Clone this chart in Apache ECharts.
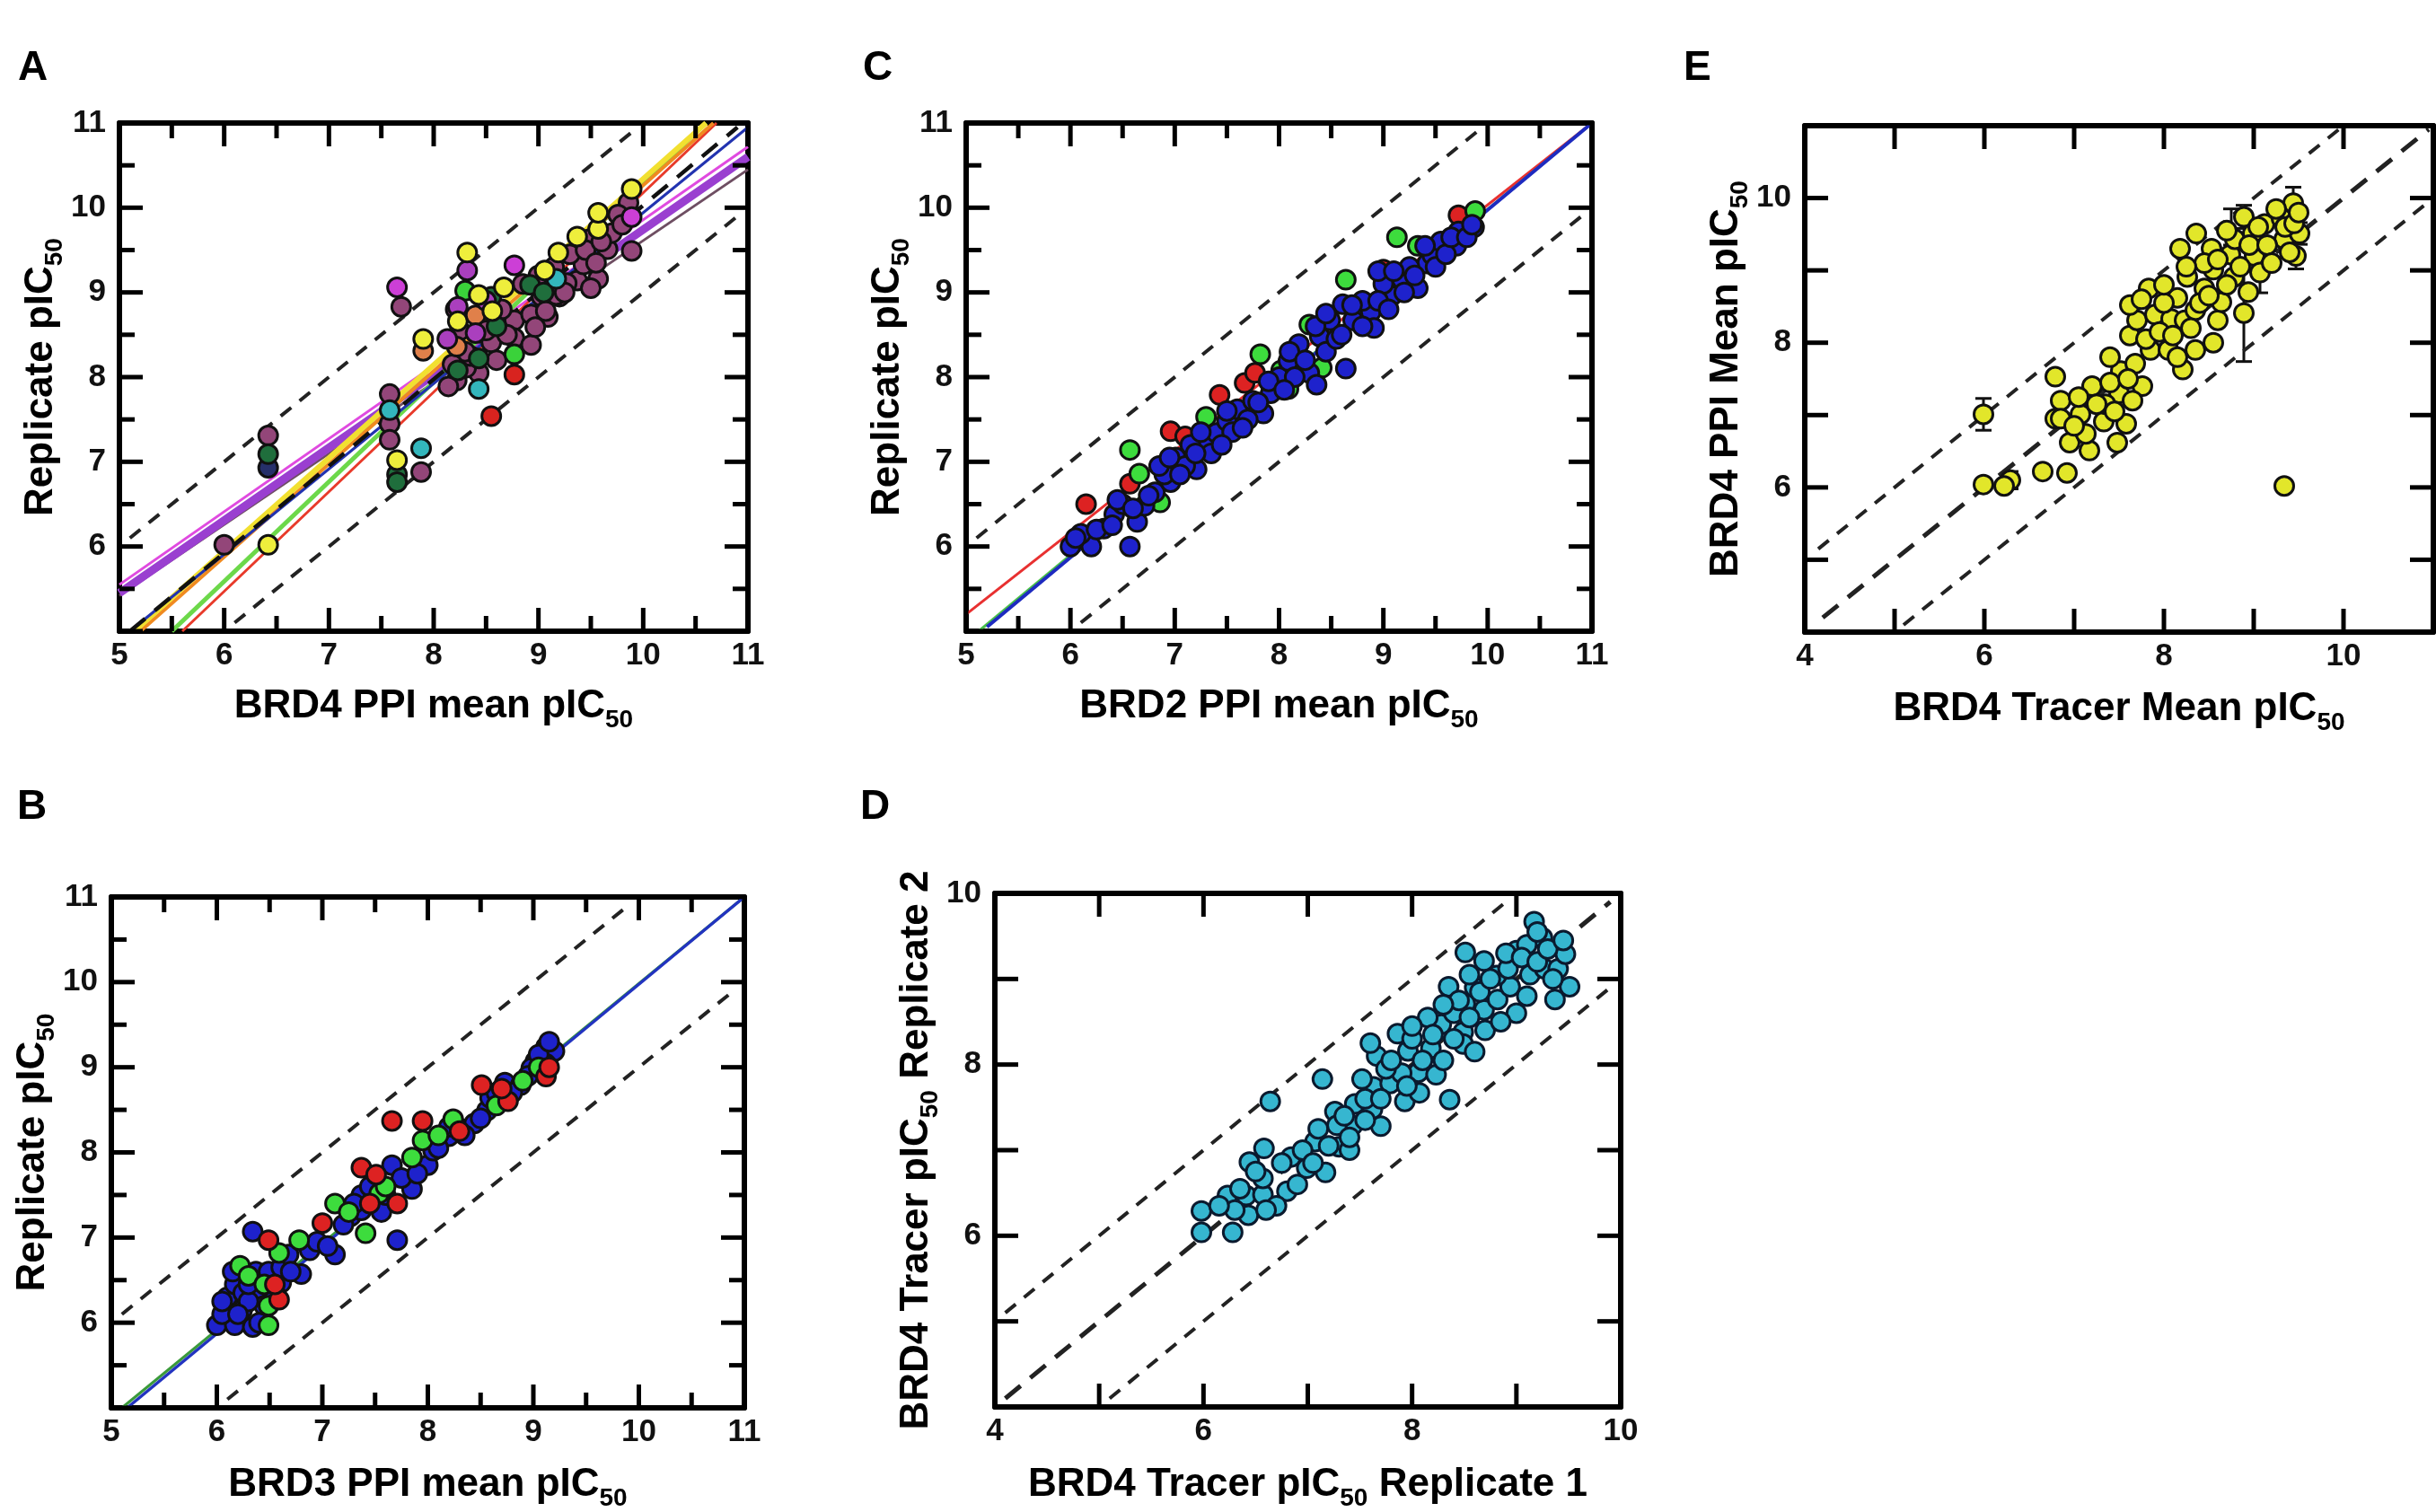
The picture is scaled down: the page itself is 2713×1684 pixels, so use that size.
<!DOCTYPE html>
<html><head><meta charset="utf-8">
<script src="https://cdn.jsdelivr.net/npm/echarts@6/dist/echarts.min.js"></script>
<style>html,body{margin:0;padding:0;background:#fff}#c{width:2713px;height:1684px}</style>
</head><body><div id="c"></div>
<script>
// ---------- Panel A (BRD4 PPI) ----------
const A_mauve = [[6.00,6.02],[6.42,7.31],[7.58,7.80],[7.58,7.45],[7.58,7.26],[7.88,6.88],[7.69,8.83],[8.22,7.96],[8.43,8.05],[8.55,8.41],[8.77,8.67],[8.93,8.74],[9.09,8.71],[9.03,8.95],[9.20,8.95],[9.37,9.14],[9.43,9.33],[9.57,9.16],[9.66,9.51],[9.89,9.49],[8.14,7.89],[8.77,8.46],[8.93,8.38],[8.31,8.11],[8.21,8.80],[9.86,10.06],[9.76,9.92],[9.49,9.63],[9.27,9.11],[9.07,8.78],[8.97,8.59],[9.17,8.97],[8.35,8.25],[8.50,8.55],[8.65,8.80],[8.85,9.10],[9.00,9.20],[9.15,9.30],[9.30,9.45],[9.45,9.50],[9.55,9.35],[9.70,9.70],[9.60,9.60],[9.80,9.80],[8.60,8.20],[8.70,8.50],[9.25,9.00],[9.50,9.05],[8.25,8.55],[8.30,8.30],[8.18,8.15]];
const A_yellow = [[6.42,6.02],[7.65,7.02],[7.90,8.45],[8.32,9.47],[8.43,8.97],[8.67,9.06],[8.56,8.78],[8.23,8.66],[9.06,9.26],[9.19,9.47],[9.37,9.66],[9.57,9.75],[9.57,9.94],[9.89,10.22]];
const A_magenta = [[8.77,9.32],[9.89,9.89],[7.65,9.06]];
const A_purple = [[8.32,9.26],[8.40,8.52],[8.13,8.45],[8.23,8.83],[8.50,8.90]];
const A_green = [[8.30,9.02],[8.77,8.27]];
const A_darkgreen = [[6.42,7.09],[7.65,6.85],[7.65,6.76],[8.23,8.08],[8.43,8.22],[8.92,9.09],[8.55,8.95],[8.60,8.60],[9.05,9.00]];
const A_cyan = [[7.58,7.61],[7.88,7.16],[8.43,7.86],[9.17,9.16]];
const A_red = [[8.55,7.54],[8.77,8.03]];
const A_orange = [[7.90,8.31],[8.22,8.36],[8.40,8.73]];
const A_navy = [[6.42,6.93]];
const A_fitPurple = [[5,5.45],[11,10.60]];
const A_fitMagenta = [[5,5.55],[11,10.72]];
const A_fitGray = [[5,5.42],[11,10.45]];
const A_fitOrange = [[5.20,5],[10.67,11]];
const A_fitYellow = [[5.14,5],[10.60,11]];
const A_fitGreen = [[5.50,5],[10.60,11]];
const A_fitRed = [[5.60,5],[10.70,11]];
const A_fitBlue = [[5.10,5],[11,10.95]];
const A_fitBlack = [[5.10,5],[10.90,10.95]];

// ---------- Panel B (BRD3 PPI) ----------
const B_blue = [[6.0,5.97],[6.17,5.97],[6.34,5.95],[6.10,6.30],[6.24,6.15],[6.17,6.45],[6.39,6.40],[6.37,6.60],[6.49,6.60],[6.61,6.47],[6.34,7.07],[6.61,6.65],[6.80,6.57],[6.68,6.80],[6.88,6.85],[7.12,6.80],[7.27,7.25],[7.37,7.32],[7.46,7.45],[7.56,7.30],[7.66,7.85],[7.85,7.57],[7.71,6.97],[8.0,7.85],[8.05,8.02],[8.20,8.19],[8.29,8.29],[8.44,8.34],[8.56,8.49],[8.59,8.64],[8.73,8.82],[8.88,8.79],[9.02,9.07],[9.12,9.24],[9.20,9.19],[9.12,9.04],[8.98,8.99],[7.37,7.50],[6.05,6.10],[6.25,6.35],[6.45,6.20],[6.05,6.25],[6.15,6.60],[6.30,6.25],[6.30,6.45],[6.20,6.10],[6.40,6.00],[6.55,6.35],[6.70,6.60],[6.95,6.95],[7.05,6.90],[7.20,7.15],[7.30,7.40],[7.45,7.60],[7.60,7.50],[7.75,7.70],[7.90,7.75],[8.10,8.05],[8.35,8.20],[8.50,8.40],[8.65,8.70],[8.80,8.70],[8.95,8.90],[9.05,9.15],[9.15,9.30],[8.20,8.30]];
const B_green = [[6.22,6.67],[6.49,5.97],[6.49,6.20],[6.59,6.82],[6.78,6.97],[7.12,7.40],[7.54,7.52],[7.41,7.05],[7.85,7.94],[7.95,8.14],[8.24,8.39],[8.90,8.84],[6.30,6.55],[6.45,6.45],[7.25,7.30],[7.60,7.60],[8.10,8.20],[8.65,8.55],[9.05,9.00]];
const B_red = [[7.66,8.37],[7.95,8.37],[7.37,7.82],[7.51,7.74],[7.71,7.40],[7.0,7.17],[6.49,6.97],[6.59,6.27],[8.51,8.79],[8.76,8.60],[9.12,8.89],[6.55,6.45],[7.45,7.40],[8.30,8.25],[8.70,8.75],[9.15,9.00]];
const B_fitBlue = [[5.15,5],[11,11]];
const B_fitGreen = [[5.10,5],[11,11]];

// ---------- Panel C (BRD2 PPI) ----------
const C_blue = [[6.0,6.0],[6.2,6.0],[6.57,6.0],[6.32,6.21],[6.42,6.38],[6.64,6.29],[6.71,6.48],[6.81,6.64],[6.96,6.76],[7.01,7.05],[7.21,6.91],[7.30,7.19],[7.40,7.34],[7.50,7.48],[7.60,7.62],[7.75,7.72],[7.85,7.57],[7.92,7.81],[8.0,8.0],[8.09,8.19],[8.19,8.39],[8.29,8.05],[8.39,8.48],[8.49,8.67],[8.64,8.10],[8.61,8.86],[8.71,8.67],[8.88,8.77],[8.91,8.58],[9.08,8.96],[9.18,9.15],[9.33,9.05],[9.42,9.34],[9.57,9.48],[9.47,9.44],[9.72,9.72],[9.87,9.77],[8.36,7.91],[7.10,6.95],[6.90,6.85],[7.15,7.20],[7.35,7.10],[7.55,7.35],[7.70,7.50],[8.15,8.00],[8.45,8.30],[8.55,8.45],[8.80,8.90],[9.00,9.10],[9.25,9.30],[9.55,9.60],[9.70,9.55],[6.10,6.15],[6.50,6.50],[8.95,9.25],[9.10,9.25],[6.05,6.10],[6.25,6.20],[6.40,6.25],[6.45,6.55],[6.60,6.45],[6.75,6.60],[6.85,6.95],[6.95,7.05],[7.05,6.85],[7.20,7.10],[7.25,7.35],[7.45,7.20],[7.50,7.60],[7.65,7.40],[7.80,7.70],[7.90,7.95],[8.05,7.85],[8.10,8.30],[8.25,8.20],[8.35,8.60],[8.45,8.75],[8.60,8.50],[8.70,8.85],[8.80,8.60],[8.95,8.90],[9.05,8.80],[9.20,9.00],[9.30,9.20],[9.40,9.55],[9.50,9.30],[9.60,9.45],[9.65,9.65],[9.80,9.65],[9.85,9.80]];
const C_green = [[6.57,7.14],[6.66,6.86],[7.82,8.27],[8.02,8.08],[8.09,7.86],[8.41,8.11],[8.64,9.15],[9.13,9.65],[9.33,9.55],[9.88,9.96],[7.30,7.53],[6.86,6.52],[8.29,8.62]];
const C_red = [[6.15,6.50],[6.96,7.36],[7.67,7.93],[7.77,8.05],[9.00,9.27],[9.72,9.91],[6.57,6.74],[7.10,7.30],[7.43,7.79]];
const C_fitBlue = [[5.20,5.05],[11,11]];
const C_fitRed = [[5,5.20],[11,11]];
const C_fitGreen = [[5.12,5],[11,11]];

// ---------- Panel D (BRD4 tracer replicates) ----------
const D_points = [[5.98,6.29],[5.98,6.04],[6.28,6.04],[6.23,6.47],[6.41,6.47],[6.43,6.24],[6.57,6.48],[6.44,6.86],[6.58,7.02],[6.57,6.67],[6.80,6.52],[6.84,6.92],[6.99,6.79],[7.17,6.74],[7.07,7.10],[7.30,7.04],[7.26,7.45],[7.43,7.29],[7.28,7.29],[7.45,7.54],[7.62,7.48],[7.70,7.28],[7.63,7.74],[7.79,7.78],[7.93,7.57],[8.07,7.67],[7.52,7.83],[7.66,8.10],[7.86,8.36],[7.96,8.16],[8.06,7.91],[8.23,7.88],[8.36,7.59],[8.18,8.19],[8.28,8.47],[8.15,8.55],[8.49,8.38],[8.49,8.24],[8.35,8.91],[8.51,8.71],[8.69,8.64],[8.82,8.76],[8.94,8.91],[9.00,8.60],[8.51,9.31],[8.69,9.21],[8.81,9.04],[8.92,9.12],[9.00,9.33],[9.13,9.05],[9.17,9.67],[9.25,9.48],[9.27,9.12],[9.40,9.12],[9.47,9.29],[9.51,8.91],[9.37,8.76],[7.14,7.83],[6.64,7.57],[6.70,6.35],[6.90,6.60],[7.40,7.00],[7.90,7.90],[8.00,8.30],[8.60,8.90],[8.40,8.30],[9.10,9.40],[8.70,8.40],[6.35,6.55],[6.50,6.75],[6.60,6.30],[6.75,6.85],[6.95,7.00],[7.05,6.85],[7.10,7.25],[7.20,7.05],[7.35,7.40],[7.40,7.15],[7.55,7.60],[7.55,7.35],[7.70,7.60],[7.75,7.95],[7.80,8.05],[7.95,7.75],[8.00,8.45],[8.10,8.05],[8.20,8.35],[8.30,8.05],[8.40,8.60],[8.45,8.75],[8.55,8.55],[8.60,8.15],[8.65,8.85],[8.75,9.00],[8.85,8.50],[8.90,9.30],[9.05,9.25],[9.10,8.80],[9.20,9.20],[9.30,9.35],[9.35,9.00],[9.45,9.45],[9.20,9.55],[8.55,9.05],[8.30,8.70],[7.60,8.25],[6.30,6.30],[6.15,6.35]];

// ---------- Panel E (tracer vs PPI means) ----------
const E_points = [[5.99,7.01],[5.99,6.04],[6.29,6.10],[6.22,6.02],[6.65,6.22],[6.92,6.20],[6.79,7.53],[6.85,7.20],[6.79,6.95],[6.95,6.62],[7.17,6.51],[7.07,7.01],[7.20,7.40],[7.13,6.74],[7.33,6.91],[7.48,6.62],[7.58,6.88],[7.50,7.30],[7.52,7.61],[7.76,7.40],[7.68,7.71],[7.62,8.10],[7.85,7.90],[8.05,7.90],[8.21,7.63],[8.35,7.90],[7.70,8.31],[7.62,8.52],[7.90,8.39],[7.83,8.75],[8.15,8.62],[8.08,8.33],[8.23,8.31],[8.60,8.31],[8.64,8.56],[8.89,8.41],[8.94,8.70],[8.78,8.91],[8.55,9.01],[8.26,8.91],[8.18,9.30],[8.36,9.51],[8.53,9.30],[8.74,9.22],[8.79,9.43],[8.89,9.74],[8.99,9.51],[9.01,9.20],[9.07,8.97],[9.12,9.64],[9.31,9.72],[9.34,9.43],[9.44,9.93],[9.47,9.20],[9.51,9.51],[9.34,6.02],[7.35,7.15],[8.45,8.75],[8.35,8.45],[6.85,6.95],[7.00,6.85],[7.05,7.25],[7.25,7.15],[7.40,7.45],[7.45,7.05],[7.60,7.50],[7.65,7.20],[7.80,8.05],[7.95,8.15],[8.00,8.55],[8.10,8.10],[8.15,7.80],[8.30,8.20],[8.40,8.55],[8.45,9.10],[8.50,8.65],[8.60,9.15],[8.70,8.80],[8.70,9.55],[8.85,9.05],[8.95,9.35],[9.05,9.60],[9.15,9.35],[9.20,9.10],[9.25,9.85],[9.35,9.60],[9.40,9.25],[9.45,9.65],[9.50,9.80],[8.25,9.05],[8.00,8.80],[7.75,8.60],[7.40,7.80],[8.55,8.00]];
const E_errors = [[5.99,7.01,0.22],[6.29,6.10,0.12],[8.89,8.41,0.67],[8.89,9.74,0.16],[9.44,9.93,0.22],[9.47,9.20,0.18],[9.07,8.97,0.28],[8.75,9.60,0.25],[9.51,9.51,0.15]];

// guide lines (identity and +/- 1 log unit)
const ABC_upper = [[5.1,6.1],[9.9,10.9]];
const ABC_lower = [[6.1,5.1],[10.9,9.9]];
const D_upper = [[4.1,5.1],[8.9,9.9]];
const D_identity = [[4.1,4.1],[9.9,9.9]];
const D_lower = [[5.1,4.1],[9.9,8.9]];
const E_upper = [[4.15,5.15],[9.95,10.95]];
const E_identity = [[4.2,4.2],[10.95,10.95]];
const E_lower = [[5.1,4.1],[10.95,9.95]];

// tick positions and tick label sets
const ticksABC = [5,5.5,6,6.5,7,7.5,8,8.5,9,9.5,10,10.5,11];
const ticksD = [4,5,6,7,8,9,10];
const ticksE = [4,5,6,7,8,9,10,11];
const labelsABC_x = [5,6,7,8,9,10,11];
const labelsABC_y = [6,7,8,9,10,11];
const labelsDE_x = [4,6,8,10];
const labelsDE_y = [6,8,10];

const FONT = '"Liberation Sans", Arial, Helvetica, sans-serif';
const rich = {
  a: {fontSize: 44, fontWeight: 'bold', fontFamily: FONT, color: '#000', verticalAlign: 'bottom', padding: [0,0,7,0]},
  s: {fontSize: 28, fontWeight: 'bold', fontFamily: FONT, color: '#000', verticalAlign: 'bottom'}
};

const grids = [
  {left: 133, top: 137, width: 700, height: 566},   // A
  {left: 124, top: 999, width: 705, height: 579},   // B
  {left: 1076, top: 137, width: 697, height: 566},  // C
  {left: 1108, top: 995, width: 697, height: 580},  // D
  {left: 2010, top: 140, width: 706, height: 564}   // E
];
const ranges = [[5,11],[5,11],[5,11],[4,10],[4,11]];

function makeAxes(dim, g, labels, name, gap) {
  const common = {
    gridIndex: g, type: 'value', min: ranges[g][0], max: ranges[g][1], interval: 1,
    axisLine: {show: true, onZero: false, lineStyle: {color: '#000', width: 6}},
    axisTick: {show: false}, minorTick: {show: false},
    splitLine: {show: false}, minorSplitLine: {show: false}
  };
  const main = Object.assign({}, common, {
    position: dim === 'x' ? 'bottom' : 'left',
    axisLabel: {show: true, margin: dim === 'x' ? 10 : 15, color: '#111', fontSize: 35, fontWeight: 'bold', fontFamily: FONT,
      showMinLabel: true, showMaxLabel: true,
      formatter: function (v) { return labels.indexOf(Math.round(v * 100) / 100) >= 0 ? String(v) : ''; }},
    name: name, nameLocation: 'middle', nameGap: gap,
    nameTextStyle: {rich: rich, fontFamily: FONT}
  });
  const mirror = Object.assign({}, common, {position: dim === 'x' ? 'top' : 'right', axisLabel: {show: false}});
  return [main, mirror];
}

const xAxis = [].concat(
  makeAxes('x', 0, labelsABC_x, '{a|BRD4 PPI mean pIC}{s|50}', 62),
  makeAxes('x', 1, labelsABC_x, '{a|BRD3 PPI mean pIC}{s|50}', 64),
  makeAxes('x', 2, labelsABC_x, '{a|BRD2 PPI mean pIC}{s|50}', 62),
  makeAxes('x', 3, labelsDE_x, '{a|BRD4 Tracer pIC}{s|50}{a| Replicate 1}', 65),
  makeAxes('x', 4, labelsDE_x, '{a|BRD4 Tracer Mean pIC}{s|50}', 64)
);
const yAxis = [].concat(
  makeAxes('y', 0, labelsABC_y, '{a|Replicate pIC}{s|50}', 46),
  makeAxes('y', 1, labelsABC_y, '{a|Replicate pIC}{s|50}', 42),
  makeAxes('y', 2, labelsABC_y, '{a|Replicate pIC}{s|50}', 46),
  makeAxes('y', 3, labelsDE_y, '{a|BRD4 Tracer pIC}{s|50}{a| Replicate 2}', 54),
  makeAxes('y', 4, labelsDE_y, '{a|BRD4 PPI Mean pIC}{s|50}', 40)
);

function pts(g, data, fill, border) {
  return {type: 'scatter', xAxisIndex: 2 * g, yAxisIndex: 2 * g, data: data, symbol: 'circle', symbolSize: 21,
    itemStyle: {color: fill, borderColor: border || '#111', borderWidth: 3, opacity: 1}, z: 3, silent: true};
}
function ln(g, data, color, width, dash) {
  return {type: 'line', xAxisIndex: 2 * g, yAxisIndex: 2 * g, data: data, showSymbol: false, symbol: 'none',
    lineStyle: {color: color, width: width, type: dash || 'solid'}, z: 2, clip: true, silent: true};
}
// inward ticks on all four sides, placed through the axis scales
function ticks(g, values) {
  const lo = ranges[g][0], hi = ranges[g][1];
  return {type: 'custom', xAxisIndex: 2 * g, yAxisIndex: 2 * g, data: values.map(function (v) { return [v]; }),
    z: 4, silent: true, clip: false,
    renderItem: function (params, api) {
      const v = api.value(0);
      const L = Math.abs(v - Math.round(v)) < 1e-6 ? 26 : 17;
      const st = {stroke: '#000', lineWidth: 5};
      const b = api.coord([v, lo]), t = api.coord([v, hi]);
      const l = api.coord([lo, v]), r = api.coord([hi, v]);
      return {type: 'group', children: [
        {type: 'line', shape: {x1: b[0], y1: b[1], x2: b[0], y2: b[1] - L}, style: st},
        {type: 'line', shape: {x1: t[0], y1: t[1], x2: t[0], y2: t[1] + L}, style: st},
        {type: 'line', shape: {x1: l[0], y1: l[1], x2: l[0] + L, y2: l[1]}, style: st},
        {type: 'line', shape: {x1: r[0], y1: r[1], x2: r[0] - L, y2: r[1]}, style: st}
      ]};
    }};
}
const dashFine = [15, 12];
const dashBold = [22, 14];

const series = [
  // Panel A
  ln(0, ABC_upper, '#222', 4, dashFine), ln(0, ABC_lower, '#222', 4, dashFine),
  ln(0, A_fitGray, '#6e4e62', 3), ln(0, A_fitPurple, '#9a3fd0', 9), ln(0, A_fitMagenta, '#e04ae0', 3),
  ln(0, A_fitRed, '#e83a2a', 3), ln(0, A_fitGreen, '#6cd84a', 5), ln(0, A_fitOrange, '#f08a20', 4),
  ln(0, A_fitYellow, '#f2e030', 6), ln(0, A_fitBlue, '#2233b0', 3), ln(0, A_fitBlack, '#111', 4.5, dashBold),
  pts(0, A_mauve, '#934679'), pts(0, A_navy, '#26306a'), pts(0, A_darkgreen, '#1f6e3c'), pts(0, A_cyan, '#33b6bc'),
  pts(0, A_red, '#d8231f'), pts(0, A_orange, '#e0804a'), pts(0, A_green, '#3ad23a'), pts(0, A_purple, '#aa3fbe'),
  pts(0, A_magenta, '#cc3fd6'), pts(0, A_yellow, '#eeee3c'), ticks(0, ticksABC),
  // Panel B
  ln(1, ABC_upper, '#222', 4, dashFine), ln(1, ABC_lower, '#222', 4, dashFine),
  ln(1, B_fitGreen, '#3a9a3a', 3), ln(1, B_fitBlue, '#2233c0', 3.5),
  pts(1, B_blue, '#1e22cc'), pts(1, B_green, '#3ddc3d'), pts(1, B_red, '#dd2222'), ticks(1, ticksABC),
  // Panel C
  ln(2, ABC_upper, '#222', 4, dashFine), ln(2, ABC_lower, '#222', 4, dashFine),
  ln(2, C_fitRed, '#e83030', 3), ln(2, C_fitGreen, '#4ac04a', 3), ln(2, C_fitBlue, '#1e2ac0', 4),
  pts(2, C_red, '#dd2222'), pts(2, C_green, '#3ddc3d'), pts(2, C_blue, '#1e22cc'), ticks(2, ticksABC),
  // Panel D
  ln(3, D_upper, '#222', 4, dashFine), ln(3, D_lower, '#222', 4, dashFine), ln(3, D_identity, '#222', 5, dashBold),
  pts(3, D_points, '#36b6d0', '#0b1a2e'), ticks(3, ticksD),
  // Panel E
  ln(4, E_upper, '#222', 4, dashFine), ln(4, E_lower, '#222', 4, dashFine), ln(4, E_identity, '#222', 5, dashBold),
  {type: 'custom', xAxisIndex: 8, yAxisIndex: 8, data: E_errors, z: 2, silent: true,
    renderItem: function (params, api) {
      const x = api.value(0), y = api.value(1), e = api.value(2);
      const t = api.coord([x, y + e]), b = api.coord([x, y - e]);
      const w = 9, st = {stroke: '#111', lineWidth: 3};
      return {type: 'group', children: [
        {type: 'line', shape: {x1: t[0], y1: t[1], x2: b[0], y2: b[1]}, style: st},
        {type: 'line', shape: {x1: t[0] - w, y1: t[1], x2: t[0] + w, y2: t[1]}, style: st},
        {type: 'line', shape: {x1: b[0] - w, y1: b[1], x2: b[0] + w, y2: b[1]}, style: st}
      ]};
    }},
  pts(4, E_points, '#e2e62a', '#111'), ticks(4, ticksE)
];

const letters = [['A', 36, 80], ['C', 977, 80], ['E', 1891, 80], ['B', 35, 903], ['D', 974, 903]];
const graphic = letters.map(function (l) {
  return {type: 'text', left: l[1] - 16, top: l[2] - 27,
    style: {text: l[0], fontSize: 46, fontWeight: 'bold', fontFamily: FONT, fill: '#000'}};
});

const chart = echarts.init(document.getElementById('c'), null, {renderer: 'canvas', width: 2713, height: 1684});
chart.setOption({
  backgroundColor: '#fff', animation: false,
  grid: grids, xAxis: xAxis, yAxis: yAxis, series: series, graphic: graphic
});
</script></body></html>
